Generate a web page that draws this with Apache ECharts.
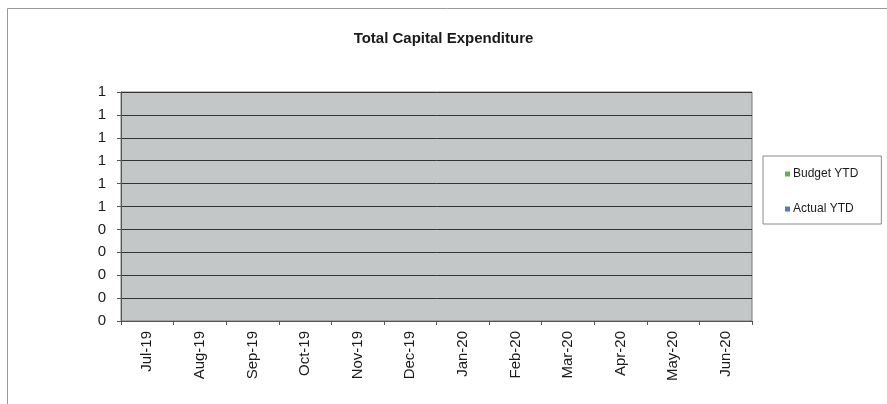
<!DOCTYPE html>
<html>
<head>
<meta charset="utf-8">
<script src="https://cdn.jsdelivr.net/npm/echarts@6/dist/echarts.min.js"></script>
<style>
html,body{margin:0;padding:0;background:#fff;}
#c{width:887px;height:404px;}
</style>
</head>
<body>
<div id="c"></div>
<script>
const months = ['Jul-19','Aug-19','Sep-19','Oct-19','Nov-19','Dec-19','Jan-20','Feb-20','Mar-20','Apr-20','May-20','Jun-20'];
const budgetYTD = [0,0,0,0,0,0,0,0,0,0,0,0];
const actualYTD = [0,0,0,0,0,0,0,0,0,0,0,0];
const seriesNames = ['Budget YTD','Actual YTD'];
const chartTitle = 'Total Capital Expenditure';

const FONT = '"Liberation Sans", Arial, sans-serif';
const chart = echarts.init(document.getElementById('c'), null, {renderer:'canvas'});
chart.setOption({
  animation: false,
  backgroundColor: '#ffffff',
  title: {
    text: chartTitle,
    left: 'center',
    top: 26,
    textStyle: {fontFamily: FONT, fontSize: 15, fontWeight: 'bold', color: '#1a1a1a'}
  },
  graphic: [{
    type: 'rect',
    shape: {x: 7.5, y: 8.5, width: 900, height: 420},
    style: {fill: 'none', stroke: '#9a9a9a', lineWidth: 1},
    silent: true
  }],
  legend: {
    orient: 'vertical',
    left: 763,
    top: 156,
    padding: [12, 23, 9, 22],
    itemGap: 23,
    itemWidth: 5,
    itemHeight: 5,
    icon: 'rect',
    borderColor: '#8a8a8a',
    borderWidth: 1,
    backgroundColor: '#fff',
    data: seriesNames,
    textStyle: {fontFamily: FONT, fontSize: 12, color: '#1a1a1a', padding: [0,0,0,-2]}
  },
  grid: {
    left: 121, right: 135, top: 92, bottom: 83,
    show: true,
    backgroundColor: '#c4c7c8',
    borderColor: '#7a7a7a',
    borderWidth: 1
  },
  xAxis: {
    type: 'category',
    data: months,
    boundaryGap: true,
    axisLine: {show: true, lineStyle: {color: '#555', width: 1}},
    axisTick: {show: true, alignWithLabel: false, length: 4, lineStyle: {color: '#555'}},
    axisLabel: {rotate: 90, margin: 10, fontFamily: FONT, fontSize: 15, color: '#1a1a1a', interval: 0},
    splitLine: {show: false}
  },
  yAxis: {
    type: 'value',
    min: 0, max: 1, interval: 0.1,
    axisLine: {show: true, lineStyle: {color: '#555', width: 1}},
    axisTick: {show: true, length: 4, lineStyle: {color: '#555'}},
    axisLabel: {
      margin: 15, fontFamily: FONT, fontSize: 15, color: '#1a1a1a',
      formatter: v => String(Math.round(v + 1e-9))
    },
    splitLine: {show: true, lineStyle: {color: '#333', width: 1}}
  },
  series: [
    {name: seriesNames[0], type: 'bar', data: budgetYTD, itemStyle: {color: '#62b14f'}},
    {name: seriesNames[1], type: 'bar', data: actualYTD, itemStyle: {color: '#4d7dc0'}}
  ]
});
</script>
</body>
</html>
